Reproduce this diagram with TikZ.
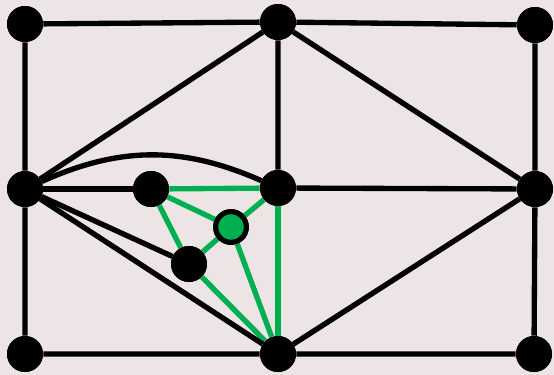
\documentclass[tikz,border=0pt]{standalone}
\usetikzlibrary{positioning}
\definecolor{paper}{HTML}{EDE5E5}
\definecolor{edgegreen}{HTML}{00B050}
\begin{document}
\begin{tikzpicture}[x=0.75pt, y=-0.75pt,
    vertex/.style={circle, fill=black, inner sep=0pt, minimum size=27pt},
    gvertex/.style={circle, fill=edgegreen, draw=black, line width=3.8pt, inner sep=0pt, minimum size=23pt},
    edge/.style={black, line width=4pt},
    gedge/.style={edgegreen, line width=4pt}]
    % Background
    \fill[paper] (0,0) rectangle (554,375);
    \useasboundingbox (0,0) rectangle (554,375);

    % Vertices
    \node[vertex] (tl) at (25,24) {};
    \node[vertex] (tm) at (278,22) {};
    \node[vertex] (tr) at (535,25) {};
    \node[vertex] (ml) at (25,189) {};
    \node[vertex] (c)  at (278,188) {};
    \node[vertex] (mr) at (535,189) {};
    \node[vertex] (bl) at (25,354) {};
    \node[vertex] (bm) at (278,354) {};
    \node[vertex] (br) at (534,354) {};
    \node[vertex] (a)  at (151,189) {};
    \node[vertex] (b)  at (189,264) {};
    \node[gvertex] (g) at (231,227) {};

    % Green edges
    \draw[gedge] (a) -- (c);
    \draw[gedge] (a) -- (b);
    \draw[gedge] (c) -- (bm);
    \draw[gedge] (b) -- (bm);
    \draw[gedge] (b) -- (g) -- (bm);
    \draw[gedge] (a) -- (g) -- (c);

    % Black edges
    \draw[edge] (tl) -- (tm) -- (tr) -- (mr) -- (br) -- (bm) -- (bl) -- (ml) -- (tl);
    \draw[edge] (ml) -- (tm) -- (mr) -- (bm);
    \draw[edge] (tm) -- (c) -- (mr);
    \draw[edge] (ml) -- (a);
    \draw[edge] (ml) -- (b);
    \draw[edge] (ml) -- (bm);
    \draw[edge] (ml) to[bend left=24] (c);

    % Vertices on top of the edges
    \foreach \v in {tl,tm,tr,ml,c,mr,bl,bm,br,a,b}
        \fill (\v) circle (18);
    \node[gvertex] at (g) {};
\end{tikzpicture}
\end{document}
